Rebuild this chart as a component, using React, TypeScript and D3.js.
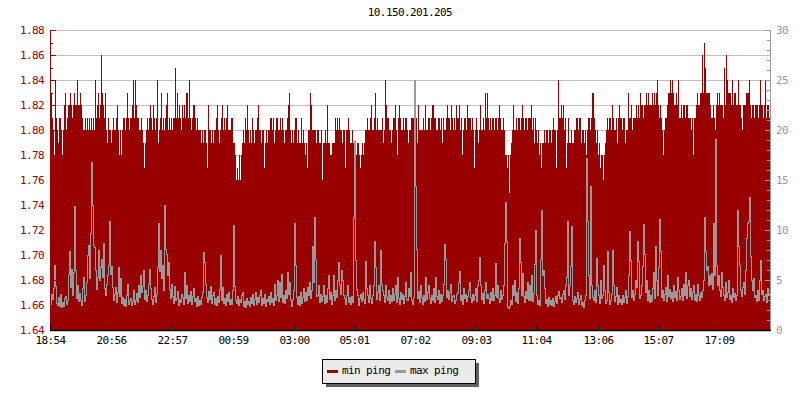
import React from "react";
import * as d3 from "d3";

const title = "10.150.201.205";
const startTime = "18:54";
const spanMinutes = 1436;
const xTickLabels = ["18:54", "20:56", "22:57", "00:59", "03:00", "05:01", "07:02", "09:03", "11:04", "13:06", "15:07", "17:09"];
const leftTicks = [1.64, 1.66, 1.68, 1.70, 1.72, 1.74, 1.76, 1.78, 1.80, 1.82, 1.84, 1.86, 1.88];
const rightTicks = [0, 5, 10, 15, 20, 25, 30];
const seriesNames = ["min ping", "max ping"];

// min ping (ms), one sample every ~2 minutes, left axis
const minPing = [
  1.81,1.83,1.81,1.80,1.78,1.84,1.81,1.80,1.79,1.81,1.81,1.80,1.78,1.80,1.82,1.83,1.80,1.81,1.82,1.82,1.83,1.82,1.81,1.82,1.83,1.82,1.82,1.84,1.82,1.82,
  1.83,1.82,1.81,1.80,1.80,1.81,1.80,1.81,1.80,1.81,1.80,1.81,1.80,1.81,1.80,1.84,1.81,1.82,1.83,1.81,1.82,1.86,1.83,1.82,1.81,1.83,1.80,1.79,1.81,1.80,
  1.80,1.79,1.80,1.81,1.80,1.80,1.81,1.82,1.80,1.78,1.80,1.78,1.80,1.81,1.81,1.80,1.81,1.83,1.81,1.80,1.81,1.81,1.82,1.84,1.81,1.84,1.82,1.81,1.81,1.80,
  1.80,1.81,1.80,1.79,1.77,1.79,1.80,1.81,1.80,1.81,1.82,1.81,1.80,1.82,1.81,1.80,1.81,1.84,1.79,1.80,1.81,1.83,1.80,1.81,1.80,1.81,1.82,1.83,1.80,1.81,
  1.80,1.81,1.80,1.81,1.81,1.85,1.81,1.83,1.81,1.82,1.81,1.80,1.82,1.81,1.82,1.81,1.83,1.83,1.81,1.84,1.81,1.80,1.81,1.82,1.82,1.81,1.80,1.81,1.80,1.80,
  1.80,1.79,1.80,1.79,1.80,1.80,1.79,1.77,1.82,1.80,1.80,1.79,1.80,1.79,1.80,1.80,1.81,1.82,1.80,1.79,1.80,1.81,1.82,1.80,1.81,1.80,1.81,1.82,1.80,1.80,
  1.80,1.81,1.81,1.79,1.79,1.78,1.76,1.77,1.76,1.78,1.76,1.78,1.79,1.80,1.79,1.81,1.80,1.82,1.80,1.79,1.80,1.79,1.81,1.80,1.79,1.80,1.80,1.81,1.82,1.80,
  1.80,1.79,1.80,1.80,1.77,1.79,1.80,1.79,1.80,1.80,1.81,1.81,1.80,1.81,1.79,1.80,1.81,1.81,1.80,1.80,1.81,1.80,1.81,1.80,1.79,1.80,1.80,1.81,1.82,1.83,
  1.80,1.79,1.80,1.79,1.80,1.81,1.81,1.79,1.80,1.79,1.79,1.81,1.79,1.80,1.79,1.78,1.79,1.77,1.80,1.80,1.83,1.82,1.80,1.80,1.80,1.80,1.79,1.80,1.80,1.79,
  1.79,1.80,1.76,1.79,1.79,1.80,1.79,1.82,1.79,1.79,1.78,1.78,1.79,1.79,1.79,1.81,1.80,1.81,1.80,1.81,1.80,1.80,1.79,1.80,1.80,1.77,1.80,1.80,1.81,1.80,
  1.79,1.79,1.80,1.79,1.79,1.79,1.78,1.79,1.79,1.78,1.77,1.78,1.79,1.78,1.79,1.80,1.80,1.81,1.80,1.80,1.81,1.82,1.80,1.80,1.81,1.83,1.80,1.81,1.80,1.80,
  1.80,1.80,1.81,1.79,1.80,1.84,1.82,1.81,1.81,1.80,1.80,1.79,1.80,1.81,1.81,1.82,1.80,1.78,1.81,1.82,1.81,1.80,1.80,1.81,1.80,1.81,1.81,1.80,1.79,1.80,
  1.80,1.81,1.81,1.81,1.81,1.80,1.81,1.79,1.82,1.80,1.80,1.80,1.80,1.81,1.80,1.82,1.80,1.80,1.81,1.81,1.80,1.81,1.82,1.82,1.81,1.81,1.80,1.80,1.81,1.81,
  1.80,1.81,1.79,1.81,1.80,1.80,1.81,1.82,1.81,1.81,1.80,1.82,1.81,1.80,1.81,1.80,1.82,1.81,1.81,1.82,1.80,1.81,1.78,1.80,1.81,1.81,1.80,1.82,1.81,1.81,
  1.81,1.80,1.81,1.80,1.77,1.80,1.81,1.80,1.79,1.80,1.82,1.80,1.80,1.81,1.80,1.83,1.81,1.83,1.81,1.80,1.81,1.80,1.81,1.81,1.80,1.81,1.81,1.80,1.81,1.82,
  1.81,1.80,1.80,1.81,1.80,1.78,1.78,1.77,1.78,1.75,1.78,1.79,1.80,1.82,1.80,1.80,1.81,1.80,1.81,1.81,1.80,1.81,1.82,1.81,1.80,1.81,1.81,1.80,1.81,1.81,
  1.81,1.82,1.80,1.81,1.79,1.81,1.80,1.79,1.80,1.78,1.79,1.77,1.79,1.79,1.80,1.79,1.80,1.80,1.79,1.80,1.80,1.79,1.80,1.81,1.80,1.80,1.77,1.80,1.84,1.81,
  1.81,1.82,1.81,1.82,1.80,1.81,1.77,1.79,1.81,1.79,1.79,1.80,1.79,1.79,1.80,1.80,1.81,1.81,1.80,1.81,1.81,1.79,1.80,1.80,1.79,1.80,1.78,1.80,1.81,1.81,
  1.80,1.81,1.83,1.83,1.81,1.80,1.79,1.80,1.78,1.79,1.77,1.78,1.78,1.76,1.78,1.79,1.80,1.81,1.80,1.81,1.81,1.80,1.82,1.81,1.80,1.80,1.81,1.79,1.81,1.82,
  1.81,1.81,1.80,1.81,1.81,1.79,1.80,1.80,1.83,1.81,1.81,1.82,1.80,1.81,1.81,1.81,1.82,1.81,1.82,1.81,1.83,1.82,1.82,1.81,1.82,1.82,1.83,1.82,1.83,1.82,
  1.82,1.82,1.83,1.82,1.83,1.82,1.83,1.84,1.82,1.81,1.82,1.81,1.80,1.78,1.80,1.81,1.81,1.82,1.83,1.83,1.84,1.83,1.84,1.83,1.82,1.82,1.83,1.82,1.84,1.81,
  1.81,1.82,1.81,1.82,1.82,1.81,1.82,1.82,1.81,1.81,1.81,1.80,1.81,1.78,1.81,1.81,1.82,1.83,1.82,1.82,1.83,1.83,1.86,1.83,1.87,1.85,1.83,1.83,1.83,1.83,
  1.82,1.81,1.81,1.82,1.81,1.80,1.82,1.83,1.82,1.83,1.82,1.82,1.82,1.81,1.85,1.82,1.86,1.84,1.83,1.83,1.83,1.82,1.84,1.82,1.83,1.83,1.82,1.82,1.84,1.82,
  1.82,1.81,1.80,1.82,1.82,1.82,1.83,1.83,1.83,1.84,1.82,1.81,1.82,1.82,1.81,1.82,1.82,1.82,1.81,1.82,1.84,1.82,1.82,1.81,1.82,1.84,1.81,1.82,1.82,1.81,
];

// max ping (ms), right axis
const maxPing = [
  2.6,3.6,3.1,4.2,6.5,4.4,2.7,2.5,3.3,2.4,3.6,2.3,2.8,2.4,3.2,3.4,2.6,3.0,5.6,7.9,4.3,6.1,3.5,5.8,12.4,6.0,3.2,4.5,2.9,3.7,
  3.0,2.5,4.2,5.3,2.9,3.5,4.8,7.5,8.5,5.2,9.7,16.8,12.5,8.5,8.3,6.0,4.1,5.3,8.0,5.0,6.3,7.1,5.3,8.7,4.2,3.5,4.6,5.5,6.5,10.9,
  5.6,6.4,4.3,3.0,3.6,4.3,2.8,3.8,6.3,3.4,5.2,2.7,3.3,2.5,3.1,2.4,3.5,4.6,2.6,3.0,3.2,2.5,2.9,4.0,2.6,3.0,3.7,2.8,4.5,3.3,
  5.5,3.8,4.4,6.0,3.1,4.0,2.9,3.5,4.6,6.1,4.2,3.1,2.6,3.4,4.3,2.8,3.6,6.3,10.7,5.9,8.0,5.2,6.5,4.0,12.5,8.1,7.6,5.5,6.8,4.1,
  3.2,4.6,3.4,2.7,4.4,3.0,3.2,3.9,2.5,3.1,2.8,3.6,3.3,2.6,5.8,3.2,4.5,2.7,3.5,2.9,3.9,2.6,3.4,4.2,2.9,3.2,2.4,3.4,2.5,3.0,
  2.6,3.3,3.8,7.8,6.8,4.6,3.3,2.8,3.9,3.1,4.4,2.7,3.5,3.8,2.6,3.2,2.5,3.4,2.8,4.1,7.5,3.0,4.3,2.7,3.2,2.5,3.6,2.9,3.8,2.6,
  3.1,2.6,4.0,10.5,4.4,3.0,2.7,3.4,2.5,3.1,2.8,3.5,3.8,2.4,2.9,2.3,3.2,2.6,2.9,2.4,3.3,2.7,3.6,2.5,3.1,3.8,2.6,3.3,2.8,3.5,
  4.0,2.5,3.2,2.7,3.6,2.4,3.1,2.9,3.4,2.6,3.8,2.8,3.2,2.5,4.6,3.0,3.5,5.0,2.9,4.8,3.3,5.6,2.8,3.5,2.7,4.0,3.2,5.8,3.6,4.8,
  3.0,2.4,3.1,4.0,10.7,6.5,3.3,2.6,3.4,2.5,3.8,2.7,3.3,4.2,2.9,3.8,3.0,4.3,3.5,4.8,3.2,4.0,8.4,4.8,11.3,7.1,3.4,3.5,4.5,2.8,
  3.6,2.9,3.4,4.5,2.7,3.5,2.8,4.2,5.5,3.1,3.8,2.6,3.5,5.5,3.0,4.0,3.3,5.0,6.8,4.5,3.6,6.0,5.0,3.5,3.2,2.6,3.5,4.5,2.8,3.3,
  2.6,3.4,2.8,11.3,18.9,7.0,4.1,3.5,2.5,3.2,3.6,2.9,3.8,3.1,2.7,6.9,4.2,3.5,2.8,4.5,3.2,2.7,3.5,4.5,8.9,6.3,3.1,3.8,4.5,3.0,
  8.0,4.6,4.0,3.5,2.8,4.5,3.3,3.0,4.0,2.7,3.5,2.9,4.2,3.0,3.6,4.5,2.8,5.3,3.2,2.6,3.8,3.1,3.6,2.7,3.4,4.8,3.1,3.0,4.2,3.4,
  5.8,3.0,2.6,3.3,25.0,14.4,8.1,3.2,3.9,2.8,4.5,3.3,2.6,3.5,2.9,5.3,3.1,3.8,4.5,3.2,2.7,3.5,3.0,4.2,2.8,5.3,3.4,3.1,4.0,2.7,
  3.6,2.9,3.5,4.6,8.6,7.1,3.3,4.0,3.1,3.8,4.6,2.9,3.4,3.5,2.7,3.0,3.6,3.8,4.8,5.9,3.0,3.5,2.6,4.2,3.2,3.6,2.9,3.4,4.0,4.8,
  3.3,2.8,3.6,3.0,3.5,4.2,2.9,4.5,5.0,7.3,4.5,3.1,3.7,2.7,4.0,4.8,3.2,3.6,3.2,2.7,3.8,3.0,4.2,3.0,3.5,6.7,3.3,4.5,3.2,2.8,
  4.0,3.1,3.5,4.5,8.7,12.8,8.9,2.3,2.2,2.4,3.0,2.6,4.5,3.5,5.0,2.9,3.8,2.7,4.2,9.2,6.8,3.5,5.7,3.4,2.8,3.9,3.2,4.8,3.0,4.5,
  3.0,5.5,2.9,3.7,6.6,10.0,3.5,2.6,3.0,2.5,7.1,12.0,5.5,6.0,4.2,2.7,3.1,2.4,3.3,2.6,3.0,2.5,3.2,2.4,2.9,3.4,2.7,3.5,3.9,3.2,
  3.3,2.8,3.6,4.0,3.1,4.5,5.3,10.9,3.5,4.5,6.4,10.4,3.0,2.6,3.4,2.8,3.2,3.8,2.6,3.1,3.5,2.5,2.8,2.3,3.0,3.5,17.2,10.9,5.5,3.2,
  14.4,4.5,3.3,3.0,4.0,2.8,7.2,4.5,3.5,2.7,5.0,3.2,3.5,6.5,4.0,2.7,3.0,7.9,3.8,2.6,3.0,3.6,8.0,4.5,2.9,3.4,4.3,2.6,3.5,2.8,
  3.1,2.6,3.5,2.8,3.3,4.0,2.7,3.4,5.5,9.9,7.0,3.3,4.0,3.0,3.6,5.0,4.3,8.9,6.9,3.2,3.5,4.5,6.4,10.6,7.6,3.8,5.0,3.0,4.0,2.8,
  3.5,2.9,4.2,5.8,3.2,8.4,5.0,3.5,6.3,11.1,7.9,3.3,4.0,3.0,3.6,4.3,2.9,5.5,3.4,4.1,3.2,3.8,2.9,4.5,3.3,3.9,3.0,5.3,4.0,3.1,
  3.4,4.2,3.0,4.6,3.5,5.8,3.2,4.5,5.0,3.4,4.2,3.1,3.8,4.5,3.0,3.6,2.9,4.6,3.5,3.0,3.8,3.3,4.0,5.0,11.3,7.9,6.0,6.4,4.5,5.5,
  4.6,5.7,4.1,10.7,5.5,19.1,6.5,4.5,5.5,4.0,3.4,5.8,4.3,3.5,3.0,4.8,3.3,3.8,5.0,3.1,3.5,2.8,4.2,3.3,3.7,3.0,3.5,12.0,8.4,6.5,
  4.0,3.4,4.3,4.8,3.6,6.0,9.2,10.7,10.9,13.3,7.4,5.0,4.0,5.2,3.3,3.5,2.9,4.0,3.0,5.0,7.0,3.6,4.0,3.0,3.4,3.6,2.8,4.2,3.5,3.8,
];

const W = 800;
const H = 400;
const M = { left: 50, right: 770, top: 30, bottom: 330 };
const RED = "#990000";
const GRAY = "#999999";
const FONT = "'DejaVu Sans Mono', monospace";

function parseHM(s: string, base: Date, startMin: number) {
  const [h, m] = s.split(":").map(Number);
  let mins = h * 60 + m;
  if (mins < startMin) mins += 1440;
  return new Date(base.getTime() + (mins - startMin) * 60000);
}

export default function App() {
  const [sh, sm] = startTime.split(":").map(Number);
  const startMin = sh * 60 + sm;
  const t0 = new Date(2020, 0, 1, sh, sm);
  const t1 = new Date(t0.getTime() + spanMinutes * 60000);
  const x = d3.scaleTime().domain([t0, t1]).range([M.left, M.right]);
  const yL = d3.scaleLinear().domain([1.64, 1.88]).range([M.bottom, M.top]);
  const yR = d3.scaleLinear().domain([0, 30]).range([M.bottom, M.top]);

  const n = minPing.length;
  const stepMs = (spanMinutes * 60000) / n;
  const times = d3.range(n).map((i) => new Date(t0.getTime() + i * stepMs));
  const tickDates = xTickLabels.map((s) => parseHM(s, t0, startMin));

  const minorLeft = d3.range(1.64, 1.8801, 0.01);
  const minorRight = d3.range(0, 31, 1);

  const line = d3
    .line<number>()
    .x((_, i) => x(times[i]) + 0.5)
    .y((v) => Math.round(yR(v)) + 0.5)
    .curve(d3.curveStepAfter);

  return (
    <svg width={W} height={H} style={{ display: "block", position: "absolute", left: 0, top: 0 }}>
      <rect x={0} y={0} width={W} height={H} fill="#ffffff" />
      <text x={(M.left + M.right) / 2} y={13} textAnchor="middle" dominantBaseline="middle" fontFamily={FONT} fontSize={11} letterSpacing={-0.6} fill="#000">
        {title}
      </text>
      {/* grid */}
      {leftTicks.slice(1).map((v) => (
        <line key={"g" + v} x1={M.left} x2={M.right} y1={Math.round(yL(v)) + 0.5} y2={Math.round(yL(v)) + 0.5} stroke="#c0c0c0" strokeWidth={1} />
      ))}
      {/* min ping bars */}
      <g shapeRendering="crispEdges">
        {minPing.map((v, i) => {
          const x0 = x(times[i]);
          const x1 = i < n - 1 ? x(times[i + 1]) : M.right;
          const y0 = yL(v);
          return <rect key={i} x={x0} y={y0} width={x1 - x0} height={M.bottom - y0} fill={RED} />;
        })}
      </g>
      {/* max ping line */}
      <path d={line(maxPing) || ""} fill="none" stroke={GRAY} strokeWidth={1} shapeRendering="crispEdges" />
      {/* left axis */}
      <line x1={M.left + 0.5} x2={M.left + 0.5} y1={M.top} y2={M.bottom} stroke={RED} strokeWidth={1} />
      {minorLeft.map((v, i) => {
        const yy = Math.round(yL(v)) + 0.5;
        const major = i % 2 === 0;
        return <line key={"lt" + i} x1={M.left} x2={M.left + (major ? 6 : 3)} y1={yy} y2={yy} stroke={RED} strokeWidth={1} />;
      })}
      {leftTicks.map((v) => (
        <text key={"ll" + v} x={44} y={yL(v) + 1} textAnchor="end" dominantBaseline="middle" fontFamily={FONT} fontSize={11} letterSpacing={-0.6} fill={RED}>
          {v.toFixed(2)}
        </text>
      ))}
      {/* right axis */}
      <line x1={M.right + 0.5} x2={M.right + 0.5} y1={M.top} y2={M.bottom} stroke={GRAY} strokeWidth={1} />
      {minorRight.map((v) => {
        const yy = Math.round(yR(v)) + 0.5;
        const major = v % 5 === 0;
        return <line key={"rt" + v} x1={M.right - (major ? 5 : 3)} x2={M.right} y1={yy} y2={yy} stroke={GRAY} strokeWidth={1} />;
      })}
      {rightTicks.map((v) => (
        <text key={"rl" + v} x={776} y={yR(v) + 1} textAnchor="start" dominantBaseline="middle" fontFamily={FONT} fontSize={11} letterSpacing={-0.6} fill={GRAY}>
          {v}
        </text>
      ))}
      {/* bottom axis */}
      <line x1={M.left} x2={M.right + 1} y1={M.bottom + 0.5} y2={M.bottom + 0.5} stroke="#000" strokeWidth={1.5} />
      {tickDates.map((d, i) => {
        const xx = Math.round(x(d)) + 0.5;
        return (
          <g key={"xt" + i}>
            <line x1={xx} x2={xx} y1={M.bottom - 5} y2={M.bottom} stroke="#000" strokeWidth={1} />
            <text x={xx} y={341} textAnchor="middle" dominantBaseline="middle" fontFamily={FONT} fontSize={11} letterSpacing={-0.6} fill="#000">
              {xTickLabels[i]}
            </text>
          </g>
        );
      })}
      {/* legend */}
      <g shapeRendering="crispEdges">
        <rect x={326} y={363} width={153} height={24} fill="#606060" />
        <rect x={322.5} y={359.5} width={153} height={24} fill="#ebebeb" stroke="#000" strokeWidth={1} />
        <rect x={327} y={370} width={11} height={3} fill={RED} />
        <rect x={395} y={370} width={11} height={3} fill={GRAY} />
      </g>
      <text x={342} y={371} dominantBaseline="middle" fontFamily={FONT} fontSize={11} letterSpacing={-0.6} fill="#000">
        {seriesNames[0]}
      </text>
      <text x={410} y={371} dominantBaseline="middle" fontFamily={FONT} fontSize={11} letterSpacing={-0.6} fill="#000">
        {seriesNames[1]}
      </text>
    </svg>
  );
}
